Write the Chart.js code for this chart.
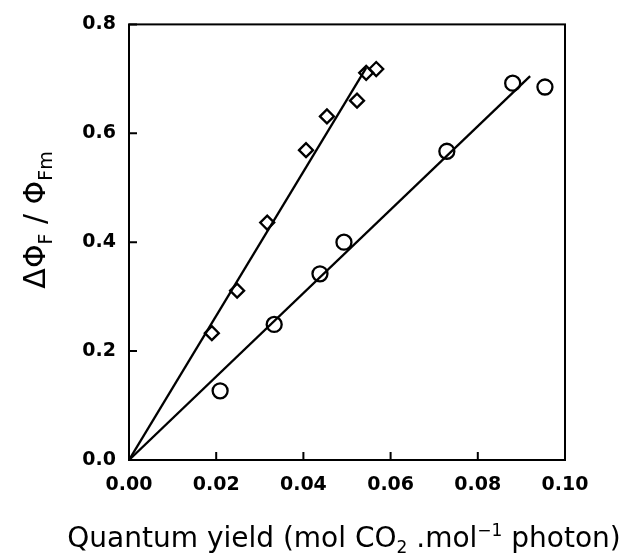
<!DOCTYPE html>
<html>
<head>
<meta charset="utf-8">
<script src="https://cdn.jsdelivr.net/npm/chart.js@4"></script>
<style>
  html, body { margin: 0; padding: 0; background: #fff; }
  #wrap { width: 631px; height: 555px; position: relative; }
</style>
</head>
<body>
<div id="wrap"><canvas id="chart"></canvas></div>
<script>
// --- data ---
const diamondX = [0.0190, 0.0248, 0.0317, 0.0406, 0.0454, 0.0523, 0.0544, 0.0567];
const diamondY = [0.233, 0.311, 0.436, 0.569, 0.631, 0.660, 0.711, 0.718];
const circleX = [0.0209, 0.0333, 0.0438, 0.0493, 0.0729, 0.0880, 0.0954];
const circleY = [0.127, 0.249, 0.342, 0.400, 0.567, 0.692, 0.685];
// fitted lines (start, end)
const diamondFitX = [0, 0.0544];
const diamondFitY = [0, 0.720];
const circleFitX = [0, 0.0920];
const circleFitY = [0, 0.705];
const xTicks = [0, 0.02, 0.04, 0.06, 0.08, 0.10];
const yTicks = [0, 0.2, 0.4, 0.6, 0.8];

const pts = (xs, ys) => xs.map((x, i) => ({ x: x, y: ys[i] }));

// draws a run of [text, font, yOffset] pieces starting at x
function drawRun(ctx, parts, x, base) {
    parts.forEach(p => {
        ctx.font = p[1];
        ctx.fillText(p[0], x, base + p[2]);
        x += ctx.measureText(p[0]).width;
    });
    return x;
}
function runWidth(ctx, parts) {
    let w = 0;
    parts.forEach(p => { ctx.font = p[1]; w += ctx.measureText(p[0]).width; });
    return w;
}

// --- frame, inward ticks and axis titles with sub/superscripts ---
const decorPlugin = {
    id: 'decor',
    afterDraw(chart) {
        const ctx = chart.ctx;
        const a = chart.chartArea;
        const xs = chart.scales.x, ys = chart.scales.y;
        ctx.save();
        ctx.strokeStyle = '#000';
        ctx.lineWidth = 2;
        ctx.strokeRect(a.left, a.top, a.right - a.left, a.bottom - a.top);
        ctx.beginPath();
        xTicks.forEach(v => {
            const px = xs.getPixelForValue(v);
            ctx.moveTo(px, a.bottom);
            ctx.lineTo(px, a.bottom - 8);
        });
        yTicks.forEach(v => {
            const py = ys.getPixelForValue(v);
            ctx.moveTo(a.left, py);
            ctx.lineTo(a.left + 8, py);
        });
        ctx.stroke();

        ctx.fillStyle = '#000';
        ctx.textBaseline = 'alphabetic';
        ctx.textAlign = 'left';

        // x title
        const big = '28px "DejaVu Sans"', small = '17px "DejaVu Sans"';
        const xparts = [
            ['Quantum yield (mol CO', big, 0],
            ['2', small, 6],
            [' .mol', big, 0],
            ['\u22121', small, -11],
            [' photon)', big, 0]
        ];
        const w = runWidth(ctx, xparts);
        drawRun(ctx, xparts, 344 - w / 2, 547);

        // y title (rotated)
        ctx.translate(45, 220);
        ctx.rotate(-Math.PI / 2);
        const yb = '30px "DejaVu Sans"', ysm = '19px "DejaVu Sans"';
        const yparts = [
            ['\u0394\u03A6', yb, 0],
            ['F', ysm, 7],
            [' / \u03A6', yb, 0],
            ['Fm', ysm, 7]
        ];
        const wy = runWidth(ctx, yparts);
        drawRun(ctx, yparts, -wy / 2, 0);
        ctx.restore();
    }
};

new Chart(document.getElementById('chart'), {
    type: 'scatter',
    data: {
        datasets: [
            {
                label: 'diamonds',
                data: pts(diamondX, diamondY),
                pointStyle: 'rectRot',
                pointRadius: 7,
                borderColor: '#000',
                backgroundColor: 'transparent',
                borderWidth: 2.3
            },
            {
                label: 'circles',
                data: pts(circleX, circleY),
                pointStyle: 'circle',
                pointRadius: 7.5,
                borderColor: '#000',
                backgroundColor: 'transparent',
                borderWidth: 2.3
            },
            {
                type: 'line',
                label: 'diamond fit',
                data: pts(diamondFitX, diamondFitY),
                borderColor: '#000',
                borderWidth: 2.3,
                pointRadius: 0,
                fill: false
            },
            {
                type: 'line',
                label: 'circle fit',
                data: pts(circleFitX, circleFitY),
                borderColor: '#000',
                borderWidth: 2.3,
                pointRadius: 0,
                fill: false
            }
        ]
    },
    options: {
        responsive: true,
        maintainAspectRatio: false,
        animation: false,
        layout: { padding: { left: 0, right: 66, top: 20, bottom: 0 } },
        plugins: {
            legend: { display: false },
            tooltip: { enabled: false }
        },
        scales: {
            x: {
                type: 'linear',
                min: 0,
                max: 0.1,
                afterFit: (s) => { s.height = 95; },
                afterBuildTicks: (s) => { s.ticks = xTicks.map(v => ({ value: v })); },
                grid: { drawOnChartArea: false, drawTicks: false },
                border: { display: false },
                ticks: {
                    padding: 14,
                    color: '#000',
                    font: { family: 'DejaVu Sans', size: 19, weight: 'bold' },
                    callback: (v) => v.toFixed(2)
                }
            },
            y: {
                type: 'linear',
                min: 0,
                max: 0.8,
                afterFit: (s) => { s.width = 129; },
                afterBuildTicks: (s) => { s.ticks = yTicks.map(v => ({ value: v })); },
                grid: { drawOnChartArea: false, drawTicks: false },
                border: { display: false },
                ticks: {
                    padding: 13,
                    color: '#000',
                    font: { family: 'DejaVu Sans', size: 19, weight: 'bold' },
                    callback: (v) => v.toFixed(1)
                }
            }
        }
    },
    plugins: [decorPlugin]
});
</script>
</body>
</html>
